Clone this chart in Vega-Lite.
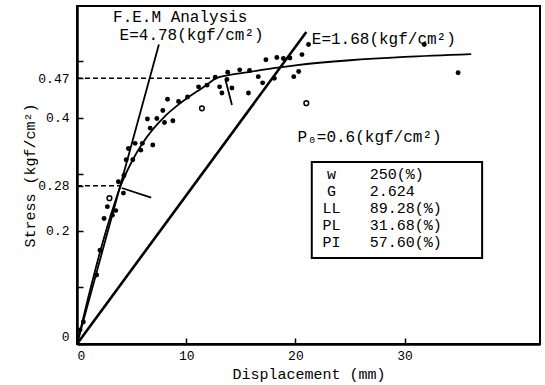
{
  "$schema": "https://vega.github.io/schema/vega-lite/v6.json",
  "width": 463,
  "height": 338,
  "autosize": {"type": "none"},
  "padding": {"left": 77, "top": 6, "right": 5, "bottom": 41},
  "background": "white",
  "config": {
    "view": {"stroke": "black", "strokeWidth": 2},
    "font": "Liberation Mono",
    "axis": {
      "domain": true,
      "domainColor": "black",
      "domainWidth": 2.5,
      "grid": false,
      "tickColor": "black",
      "tickWidth": 1.5,
      "tickSize": -6,
      "labelColor": "black",
      "labelFont": "Liberation Mono",
      "titleFont": "Liberation Mono",
      "titleColor": "black",
      "titleFontWeight": "normal",
      "titleFontSize": 15
    }
  },
  "datasets": {
    "pts": [
      {"d": 0.28, "s": 0.025, "kind": "filled"},
      {"d": 0.58, "s": 0.039, "kind": "filled"},
      {"d": 1.8, "s": 0.122, "kind": "filled"},
      {"d": 2.11, "s": 0.166, "kind": "filled"},
      {"d": 2.48, "s": 0.222, "kind": "filled"},
      {"d": 2.78, "s": 0.243, "kind": "filled"},
      {"d": 2.97, "s": 0.258, "kind": "open"},
      {"d": 3.24, "s": 0.228, "kind": "filled"},
      {"d": 3.55, "s": 0.236, "kind": "filled"},
      {"d": 3.79, "s": 0.287, "kind": "filled"},
      {"d": 4.25, "s": 0.267, "kind": "filled"},
      {"d": 4.3, "s": 0.298, "kind": "filled"},
      {"d": 4.5, "s": 0.326, "kind": "filled"},
      {"d": 5.11, "s": 0.326, "kind": "filled"},
      {"d": 4.71, "s": 0.346, "kind": "filled"},
      {"d": 5.84, "s": 0.343, "kind": "filled"},
      {"d": 5.32, "s": 0.355, "kind": "filled"},
      {"d": 5.99, "s": 0.355, "kind": "filled"},
      {"d": 6.94, "s": 0.352, "kind": "filled"},
      {"d": 6.7, "s": 0.382, "kind": "filled"},
      {"d": 6.45, "s": 0.398, "kind": "filled"},
      {"d": 7.31, "s": 0.399, "kind": "filled"},
      {"d": 8.01, "s": 0.392, "kind": "filled"},
      {"d": 8.78, "s": 0.395, "kind": "filled"},
      {"d": 7.86, "s": 0.413, "kind": "filled"},
      {"d": 8.29, "s": 0.433, "kind": "filled"},
      {"d": 9.3, "s": 0.429, "kind": "filled"},
      {"d": 10.12, "s": 0.437, "kind": "filled"},
      {"d": 11.13, "s": 0.455, "kind": "filled"},
      {"d": 11.44, "s": 0.417, "kind": "open"},
      {"d": 11.9, "s": 0.458, "kind": "filled"},
      {"d": 12.66, "s": 0.472, "kind": "filled"},
      {"d": 13.8, "s": 0.481, "kind": "filled"},
      {"d": 13.73, "s": 0.468, "kind": "filled"},
      {"d": 13.06, "s": 0.455, "kind": "filled"},
      {"d": 13.27, "s": 0.444, "kind": "filled"},
      {"d": 14.19, "s": 0.453, "kind": "filled"},
      {"d": 14.9, "s": 0.485, "kind": "filled"},
      {"d": 15.8, "s": 0.484, "kind": "filled"},
      {"d": 16.6, "s": 0.473, "kind": "filled"},
      {"d": 17.0, "s": 0.462, "kind": "filled"},
      {"d": 15.7, "s": 0.444, "kind": "filled"},
      {"d": 17.3, "s": 0.503, "kind": "filled"},
      {"d": 18.3, "s": 0.507, "kind": "filled"},
      {"d": 18.9, "s": 0.505, "kind": "filled"},
      {"d": 18.07, "s": 0.47, "kind": "filled"},
      {"d": 19.85, "s": 0.473, "kind": "filled"},
      {"d": 20.3, "s": 0.482, "kind": "filled"},
      {"d": 19.5, "s": 0.506, "kind": "filled"},
      {"d": 20.6, "s": 0.512, "kind": "filled"},
      {"d": 21.2, "s": 0.53, "kind": "filled"},
      {"d": 21.0, "s": 0.426, "kind": "open"},
      {"d": 31.8, "s": 0.53, "kind": "filled"},
      {"d": 34.9, "s": 0.48, "kind": "filled"}
    ],
    "curves": [
      {"series": "fem", "d": 0, "s": 0},
      {"series": "fem", "d": 1, "s": 0.08},
      {"series": "fem", "d": 2, "s": 0.155},
      {"series": "fem", "d": 3, "s": 0.222},
      {"series": "fem", "d": 4, "s": 0.28},
      {"series": "fem", "d": 5, "s": 0.322},
      {"series": "fem", "d": 6, "s": 0.355},
      {"series": "fem", "d": 7, "s": 0.381},
      {"series": "fem", "d": 8, "s": 0.402},
      {"series": "fem", "d": 9, "s": 0.419},
      {"series": "fem", "d": 10, "s": 0.434},
      {"series": "fem", "d": 11, "s": 0.447},
      {"series": "fem", "d": 12, "s": 0.46},
      {"series": "fem", "d": 12.7, "s": 0.47},
      {"series": "fem", "d": 14, "s": 0.476},
      {"series": "fem", "d": 16, "s": 0.482},
      {"series": "fem", "d": 18, "s": 0.488},
      {"series": "fem", "d": 20, "s": 0.493},
      {"series": "fem", "d": 25, "s": 0.502},
      {"series": "fem", "d": 30, "s": 0.508},
      {"series": "fem", "d": 36.1, "s": 0.513},
      {"series": "e478", "d": 0, "s": 0},
      {"series": "e478", "d": 7.5, "s": 0.53},
      {"series": "ann1", "d": 4.1, "s": 0.276},
      {"series": "ann1", "d": 6.79, "s": 0.259},
      {"series": "ann2", "d": 13.6, "s": 0.467},
      {"series": "ann2", "d": 14.19, "s": 0.423},
      {"series": "e168", "d": 0, "s": 0},
      {"series": "e168", "d": 21.0, "s": 0.552},
      {"series": "dash047", "d": 0, "s": 0.47},
      {"series": "dash047", "d": 12.7, "s": 0.47},
      {"series": "dash028", "d": 0, "s": 0.28},
      {"series": "dash028", "d": 3.94, "s": 0.28}
    ],
    "labels": [
      {"d": 3.3, "s": 0.579, "t": "F.E.M Analysis"},
      {"d": 3.9, "s": 0.547, "t": "E=4.78(kgf/cm²)"},
      {"d": 21.5, "s": 0.54, "t": "E=1.68(kgf/cm²)"},
      {"d": 20.2, "s": 0.366, "t": "P₀=0.6(kgf/cm²)"}
    ],
    "tabL": [
      {"d": 23.3, "s": 0.301, "t": "w"},
      {"d": 23.3, "s": 0.271, "t": "G"},
      {"d": 23.3, "s": 0.241, "t": "LL"},
      {"d": 23.3, "s": 0.211, "t": "PL"},
      {"d": 23.3, "s": 0.181, "t": "PI"}
    ],
    "tabR": [
      {"d": 26.8, "s": 0.301, "t": "250(%)"},
      {"d": 26.8, "s": 0.271, "t": "2.624"},
      {"d": 26.8, "s": 0.241, "t": "89.28(%)"},
      {"d": 26.8, "s": 0.211, "t": "31.68(%)"},
      {"d": 26.8, "s": 0.181, "t": "57.60(%)"}
    ],
    "box": [
      {"d": 21.5, "d2": 37.1, "s": 0.322, "s2": 0.152}
    ]
  },
  "encoding": {
    "x": {
      "field": "d",
      "type": "quantitative",
      "scale": {"domain": [0, 42.4], "nice": false, "zero": false},
      "axis": {
        "values": [0, 10, 20, 30],
        "labelFontSize": 13,
        "labelPadding": 11,
        "title": "Displacement (mm)",
        "titlePadding": 4
      }
    },
    "y": {
      "field": "s",
      "type": "quantitative",
      "scale": {"domain": [0, 0.598], "nice": false, "zero": false},
      "axis": {
        "values": [0, 0.1, 0.2, 0.28, 0.3, 0.4, 0.47, 0.5],
        "labelExpr": "(datum.value == 0.1 || datum.value == 0.3 || datum.value == 0.5) ? '' : format(datum.value, '.2~f')",
        "labelFontSize": 13,
        "labelPadding": 14,
        "labelOffset": {"condition": {"test": "datum.value == 0", "value": -8}, "value": 0},
        "title": "Stress (kgf/cm²)",
        "titleX": -40,
        "titleAnchor": "middle"
      }
    }
  },
  "layer": [
    {
      "data": {"name": "curves"},
      "transform": [{"filter": {"field": "series", "oneOf": ["fem", "e478", "ann1", "ann2"]}}],
      "mark": {"type": "line", "color": "black", "strokeWidth": 1.8, "interpolate": "monotone"},
      "encoding": {"detail": {"field": "series"}}
    },
    {
      "data": {"name": "curves"},
      "transform": [{"filter": {"field": "series", "equal": "e168"}}],
      "mark": {"type": "line", "color": "black", "strokeWidth": 2.6},
      "encoding": {"detail": {"field": "series"}}
    },
    {
      "data": {"name": "curves"},
      "transform": [{"filter": {"field": "series", "oneOf": ["dash047", "dash028"]}}],
      "mark": {"type": "line", "color": "black", "strokeWidth": 1.5, "strokeDash": [5, 3]},
      "encoding": {"detail": {"field": "series"}}
    },
    {
      "data": {"name": "pts"},
      "transform": [{"filter": {"field": "kind", "equal": "filled"}}],
      "mark": {"type": "point", "filled": true, "color": "black", "size": 24, "opacity": 1}
    },
    {
      "data": {"name": "pts"},
      "transform": [{"filter": {"field": "kind", "equal": "open"}}],
      "mark": {"type": "point", "filled": false, "color": "black", "size": 22, "strokeWidth": 1.5, "opacity": 1}
    },
    {
      "data": {"name": "box"},
      "mark": {"type": "rect", "fillOpacity": 0, "stroke": "black", "strokeWidth": 2},
      "encoding": {"x2": {"field": "d2"}, "y2": {"field": "s2"}}
    },
    {
      "data": {"name": "labels"},
      "mark": {"type": "text", "align": "left", "baseline": "middle", "fontSize": 16, "color": "black", "font": "Liberation Mono"},
      "encoding": {"text": {"field": "t"}}
    },
    {
      "data": {"name": "tabL"},
      "mark": {"type": "text", "align": "center", "baseline": "middle", "fontSize": 15, "color": "black", "font": "Liberation Mono"},
      "encoding": {"text": {"field": "t"}}
    },
    {
      "data": {"name": "tabR"},
      "mark": {"type": "text", "align": "left", "baseline": "middle", "fontSize": 15, "color": "black", "font": "Liberation Mono"},
      "encoding": {"text": {"field": "t"}}
    }
  ]
}
